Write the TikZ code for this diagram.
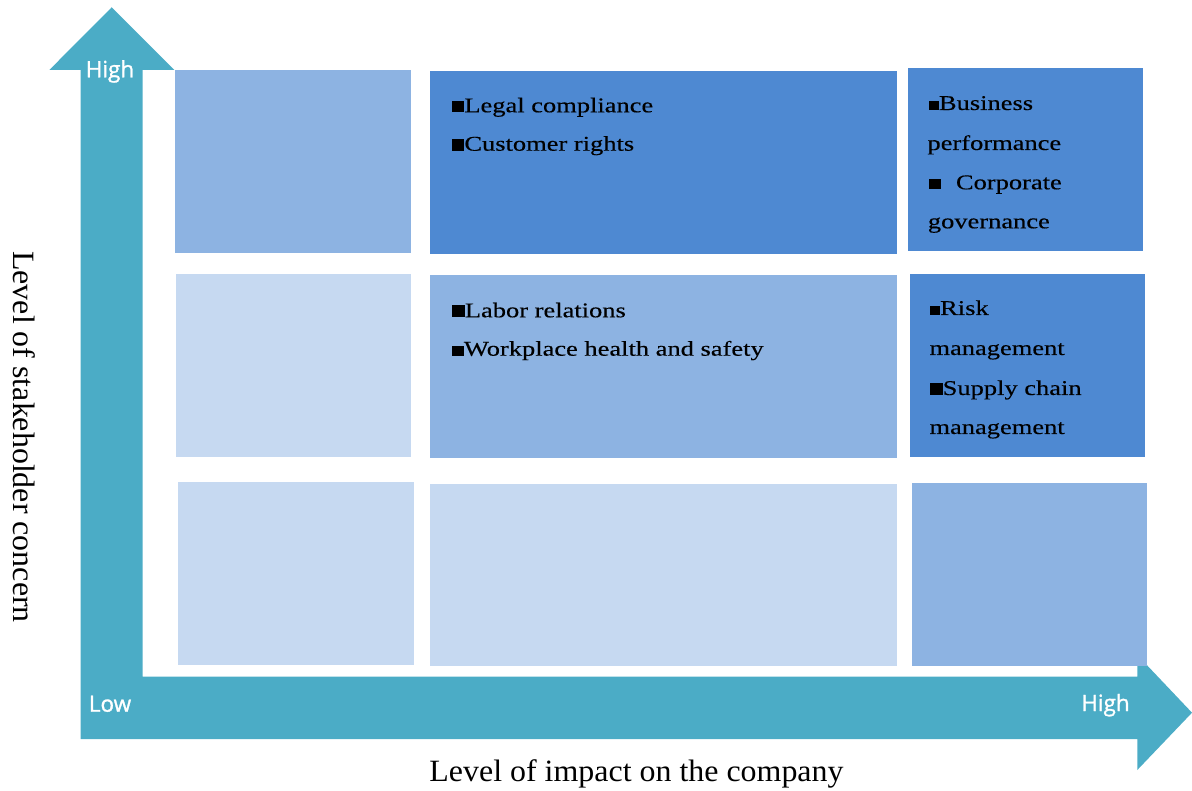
\documentclass[tikz,border=0pt]{standalone}
\usepackage{fontspec}
\setmainfont{Liberation Serif}
\newfontfamily\boxfont[FakeStretch=1.26,FakeBold=0.3]{Liberation Serif}
\newfontfamily\axfont[FakeStretch=1.03]{Liberation Serif}
\newfontfamily\lblfont[FakeBold=1.2]{Open Sans}
\definecolor{arrowteal}{HTML}{4BACC6}
\definecolor{cdark}{HTML}{4E89D2}
\definecolor{cmid}{HTML}{8DB3E2}
\definecolor{clight}{HTML}{C6D9F1}
\newcommand{\bsq}[2]{\rule{#1}{#2}}
\begin{document}
\begin{tikzpicture}[x=1pt,y=-1pt,
  boxtext/.style={anchor=base west, inner sep=0pt, text=black, font=\boxfont\fontsize{21}{25}\selectfont},
  axislabel/.style={anchor=base, inner sep=0pt, text=black, font=\axfont\fontsize{31}{36}\selectfont},
  endlabel/.style={anchor=base, inner sep=0pt, text=white, font=\lblfont\fontsize{22.5}{27}\selectfont},
  darkbox/.style={fill=cdark},
  midbox/.style={fill=cmid},
  lightbox/.style={fill=clight}]
\useasboundingbox (0,0) rectangle (1192,791);
% L-shaped double arrow
\fill[arrowteal] (80.7,739) -- (80.7,70) -- (49.3,70) -- (111.7,7.3) -- (174.3,70)
  -- (142.7,70) -- (142.7,676.7) -- (1137.3,676.7) -- (1137.3,655) -- (1192,712.7)
  -- (1137.3,770) -- (1137.3,739) -- cycle;
% grid boxes
\fill[midbox]   (175,70)  rectangle (411,253);
\fill[darkbox]  (430,71)  rectangle (897,254);
\fill[darkbox]  (908,68)  rectangle (1143,251);
\fill[lightbox] (176,274) rectangle (411,457);
\fill[midbox]   (430,275) rectangle (897,458);
\fill[darkbox]  (910,274) rectangle (1145,457);
\fill[lightbox] (178,482) rectangle (414,665);
\fill[lightbox] (430,484) rectangle (897,666);
\fill[midbox]   (912,483) rectangle (1147,666);
% box texts
\node[boxtext] (t1) at (451.7,112.3) {\bsq{12.5pt}{11.5pt}Legal compliance};
\node[boxtext] (t2) at (451.7,150.7) {\bsq{12.5pt}{11.5pt}Customer rights};
\node[boxtext] (t3) at (928.3,110) {\bsq{10.5pt}{9pt}Business};
\node[boxtext] (t4) at (927.3,150) {performance};
\node[boxtext] (t5) at (928.3,189.3) {\bsq{12.5pt}{10.5pt}\hspace{15pt}Corporate};
\node[boxtext] (t6) at (927.7,228.3) {governance};
\node[boxtext] (t7) at (451.7,317.3) {\bsq{13pt}{12.5pt}Labor relations};
\node[boxtext] (t8) at (451.7,355.7) {\bsq{12pt}{10pt}Workplace health and safety};
\node[boxtext] (t9) at (930,315) {\bsq{10pt}{8.5pt}Risk};
\node[boxtext] (t10) at (929.3,355) {management};
\node[boxtext] (t11) at (930,395) {\bsq{12.5pt}{12pt}Supply chain};
\node[boxtext] (t12) at (929.3,434) {management};
% axis labels
\node[axislabel] (xlab) at (636.5,781.7) {Level of impact on the company};
\node[axislabel, rotate=-90] (ylab) at (13,437) {Level of stakeholder concern};
% arrow end labels
\node[endlabel] (yhigh) at (110,77.3) {High};
\node[endlabel] (xlow) at (110,711.7) {Low};
\node[endlabel] (xhigh) at (1105.5,711) {High};
\end{tikzpicture}
\end{document}
